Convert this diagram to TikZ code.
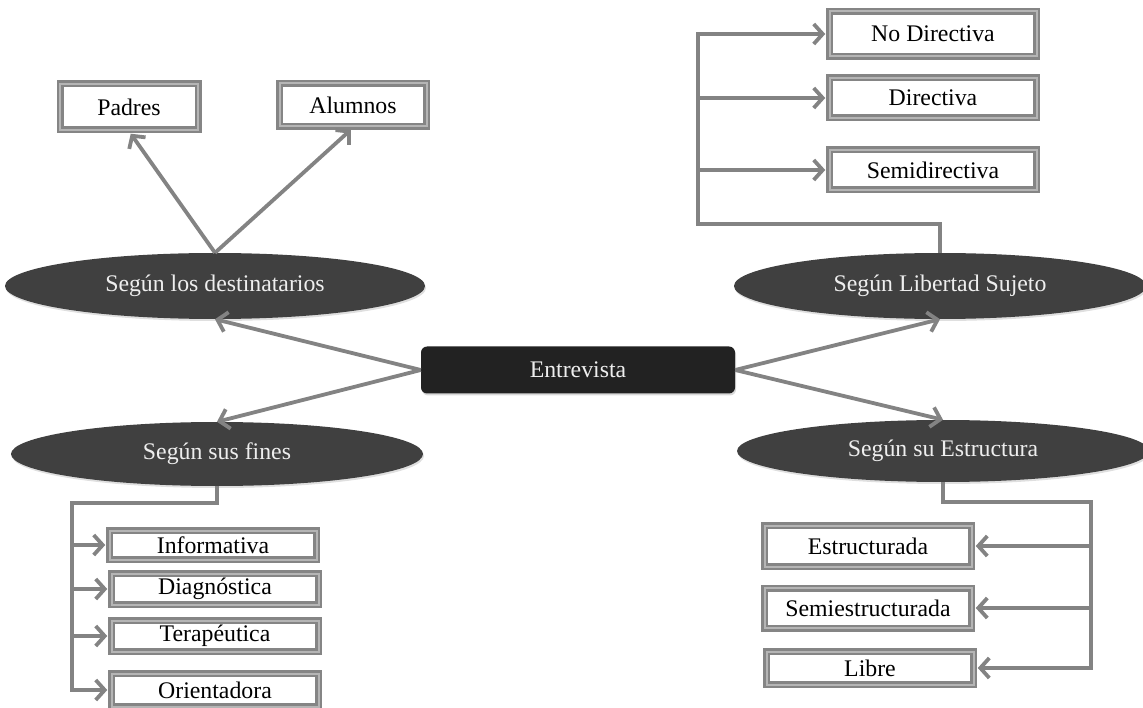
\documentclass[tikz,border=0pt]{standalone}
\usepackage{fontspec}
\setmainfont{Liberation Serif}
\usetikzlibrary{arrows.meta,shapes.geometric,shadows}
\definecolor{boxgray}{HTML}{858585}
\definecolor{boxlight}{HTML}{B5B5B5}
\definecolor{conngray}{HTML}{838383}
\definecolor{ellfill}{HTML}{404040}
\definecolor{rootfill}{HTML}{222222}
\definecolor{lighttext}{HTML}{EEEEEE}
\begin{document}
\begin{tikzpicture}[x=1pt,y=-1pt,
  every node/.style={font=\fontsize{23.8}{28}\selectfont},
  leaf/.style={draw=boxgray, line width=2.5pt, double=boxlight, double distance=2pt,
    fill=white, inner sep=0pt, text=black,
    drop shadow={opacity=0.25, shadow xshift=1pt, shadow yshift=-2pt}},
  cat/.style={ellipse, fill=ellfill, inner sep=0pt, text=lighttext,
    drop shadow={opacity=0.25, shadow xshift=1pt, shadow yshift=-2pt}},
  root/.style={rectangle, rounded corners=6pt, fill=rootfill, text=lighttext,
    minimum width=314, minimum height=47, inner sep=0pt,
    drop shadow={opacity=0.3, shadow xshift=1pt, shadow yshift=-2pt}},
  conn/.style={draw=conngray, line width=3.8pt, line join=miter},
  arr/.style={conn, -{Straight Barb[length=9pt,width=20pt]}},
  toleaf/.style={arr, shorten >=3pt}
]
\useasboundingbox (0,0) rectangle (1143,708);

% root
\node[root] (ent) at (578,370) {Entrevista};

% categories
\node[cat, minimum width=420, minimum height=66] (dest) at (215,286) {Según los destinatarios};
\node[cat, minimum width=412, minimum height=64] (fin) at (217,454) {Según sus fines};
\node[cat, minimum width=412, minimum height=66] (lib) at (940,286) {Según Libertad Sujeto};
\node[cat, minimum width=412, minimum height=62] (est) at (943,451) {Según su Estructura};

% leaves: destinatarios
\node[leaf, minimum width=138, minimum height=46] (pad) at (129,107) {Padres};
\node[leaf, minimum width=147, minimum height=43] (alu) at (353,105) {Alumnos};

% leaves: libertad
\node[leaf, minimum width=207, minimum height=45] (nd) at (933,34) {No Directiva};
\node[leaf, minimum width=207, minimum height=40] (dir) at (933,98) {Directiva};
\node[leaf, minimum width=207, minimum height=40] (semi) at (933,170) {Semidirectiva};

% leaves: fines
\node[leaf, minimum width=207, minimum height=29] (inf) at (213,545) {Informativa};
\node[leaf, minimum width=207, minimum height=31] (dia) at (215,589) {Diagnóstica};
\node[leaf, minimum width=207, minimum height=31] (ter) at (215,636) {Terapéutica};
\node[leaf, minimum width=207, minimum height=33] (ori) at (215,690) {Orientadora};

% leaves: estructura
\node[leaf, minimum width=207, minimum height=41] (estr) at (868,546) {Estructurada};
\node[leaf, minimum width=207, minimum height=40] (sest) at (868,608) {Semiestructurada};
\node[leaf, minimum width=207, minimum height=33] (libre) at (870,668) {Libre};

% root connectors
\draw[arr] (ent.west) -- (dest.south);
\draw[arr] (ent.west) -- (fin.north);
\draw[arr] (ent.east) -- (lib.south);
\draw[arr] (ent.east) -- (est.north);

% destinatarios
\draw[toleaf] (dest.north) -- (pad.south);
\draw[toleaf] (dest.north) -- (alu.south);

% libertad
\coordinate (jr) at (698,224);
\draw[toleaf] (lib.north) |- (jr) |- (nd.west);
\draw[toleaf] (jr |- dir.west) -- (dir.west);
\draw[toleaf] (jr |- semi.west) -- (semi.west);

% fines
\coordinate (jl) at (72,503);
\draw[toleaf] (fin.south) |- (jl) |- (ori.west);
\draw[toleaf] (jl |- inf.west) -- (inf.west);
\draw[toleaf] (jl |- dia.west) -- (dia.west);
\draw[toleaf] (jl |- ter.west) -- (ter.west);

% estructura
\coordinate (je) at (1091,502);
\draw[toleaf] (est.south) |- (je) |- (libre.east);
\draw[toleaf] (je |- estr.east) -- (estr.east);
\draw[toleaf] (je |- sest.east) -- (sest.east);
\end{tikzpicture}
\end{document}
